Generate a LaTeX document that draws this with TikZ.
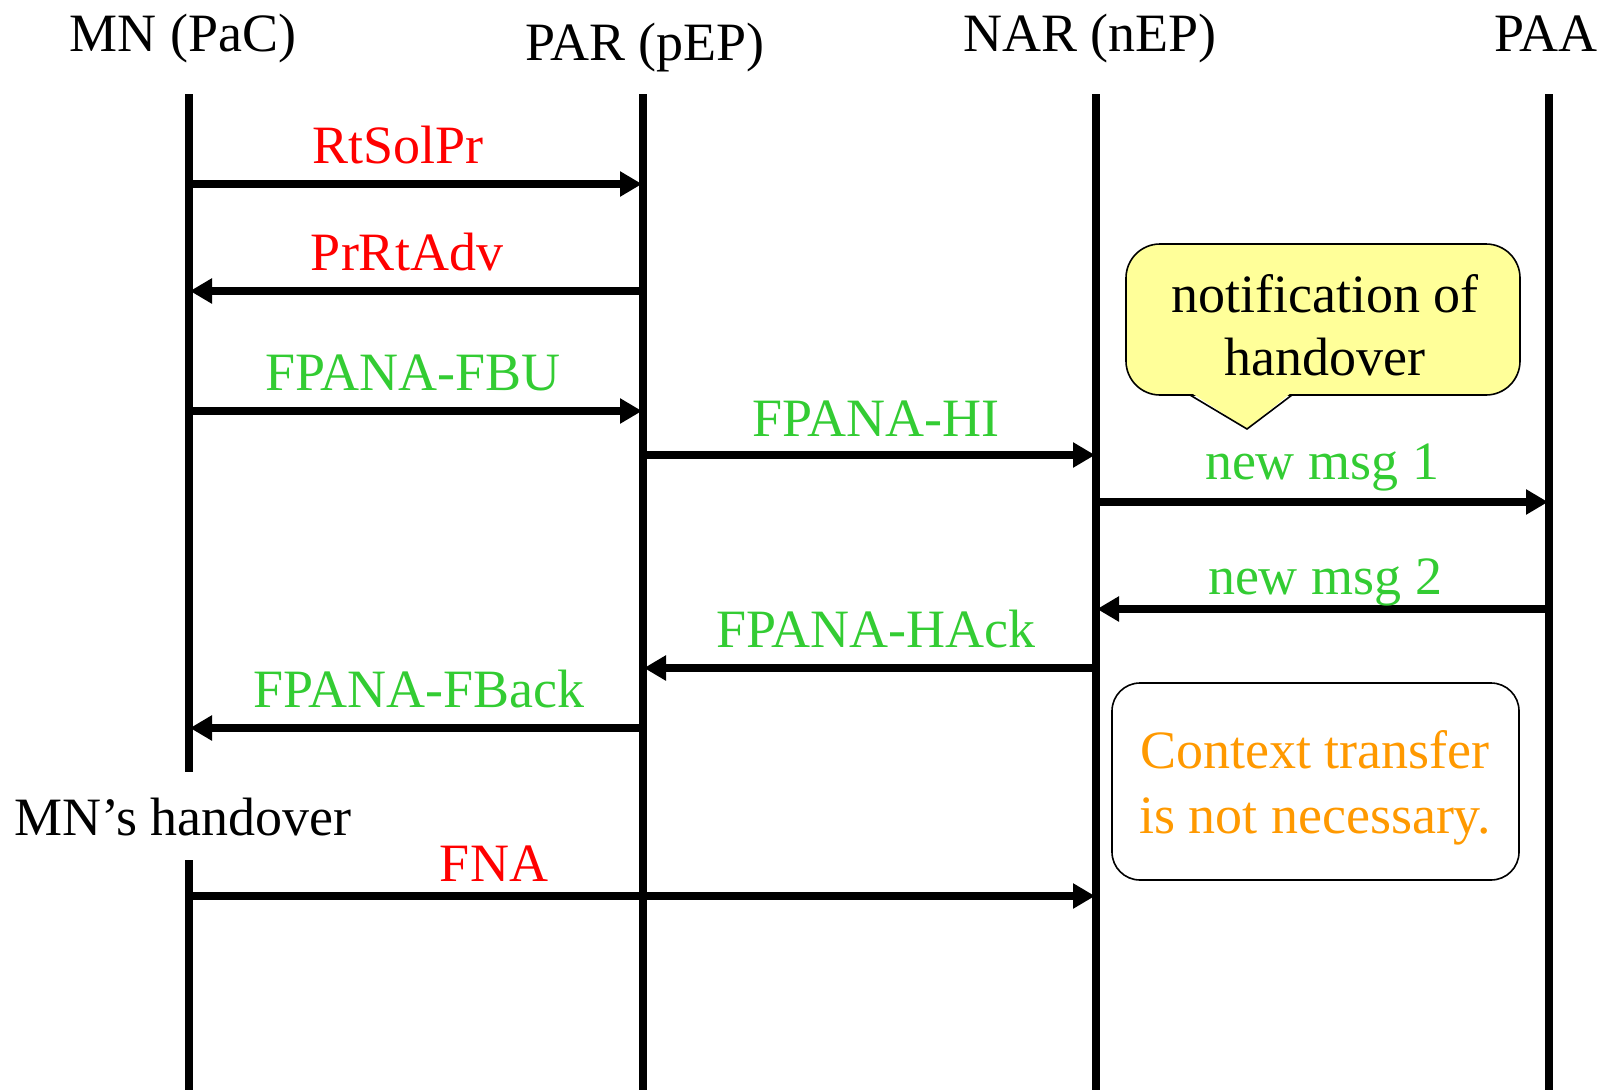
\documentclass[tikz,border=0pt]{standalone}
\usepackage{fontspec}
\setmainfont{Liberation Serif}
\usetikzlibrary{arrows.meta}
\definecolor{msgred}{RGB}{255,0,0}
\definecolor{msggreen}{RGB}{51,204,51}
\definecolor{ctxorange}{RGB}{255,153,0}
\definecolor{notefill}{RGB}{255,255,153}

\begin{document}
\begin{tikzpicture}[x=1pt,y=-1pt,
  lifeline/.style={line width=8pt},
  msg/.style={line width=7.5pt,-{Triangle[length=22pt,width=24pt]}},
  txt/.style={font=\fontsize{54}{60}\selectfont, anchor=base, inner sep=0pt},
  redlbl/.style={txt, text=msgred},
  greenlbl/.style={txt, text=msggreen},
  orangelbl/.style={txt, text=ctxorange}]

\useasboundingbox (0,0) rectangle (1610,1090);

% entity headers
\node[txt] (hmn)  at (183,51) {MN (PaC)};
\node[txt] (hpar) at (645,60) {PAR (pEP)};
\node[txt] (hnar) at (1090,51) {NAR (nEP)};
\node[txt] (hpaa) at (1546,51) {PAA};

% lifeline end points
\coordinate (mnTop)  at (189,94);
\coordinate (mnGapA) at (189,772);
\coordinate (mnGapB) at (189,860);
\coordinate (mnBot)  at (189,1090);
\coordinate (parTop) at (643,94);
\coordinate (parBot) at (643,1090);
\coordinate (narTop) at (1096,94);
\coordinate (narBot) at (1096,1090);
\coordinate (paaTop) at (1549,94);
\coordinate (paaBot) at (1549,1090);

\draw[lifeline] (mnTop) -- (mnGapA);
\draw[lifeline] (mnGapB) -- (mnBot);
\draw[lifeline] (parTop) -- (parBot);
\draw[lifeline] (narTop) -- (narBot);
\draw[lifeline] (paaTop) -- (paaBot);

\node[txt] (handover) at (183,835) {MN’s handover};

% message end points
\coordinate (m1a) at (189,184);  \coordinate (m1b) at (642,184);
\coordinate (m2a) at (643,291);  \coordinate (m2b) at (190,291);
\coordinate (m3a) at (189,411);  \coordinate (m3b) at (642,411);
\coordinate (m4a) at (643,455);  \coordinate (m4b) at (1095,455);
\coordinate (m5a) at (1096,502); \coordinate (m5b) at (1548,502);
\coordinate (m6a) at (1549,609); \coordinate (m6b) at (1097,609);
\coordinate (m7a) at (1096,668); \coordinate (m7b) at (644,668);
\coordinate (m8a) at (643,728);  \coordinate (m8b) at (190,728);
\coordinate (m9a) at (189,896);  \coordinate (m9b) at (1095,896);

% messages
\draw[msg] (m1a) -- (m1b);
\draw[msg] (m2a) -- (m2b);
\draw[msg] (m3a) -- (m3b);
\draw[msg] (m4a) -- (m4b);
\draw[msg] (m5a) -- (m5b);
\draw[msg] (m6a) -- (m6b);
\draw[msg] (m7a) -- (m7b);
\draw[msg] (m8a) -- (m8b);
\draw[msg] (m9a) -- (m9b);

% message labels
\node[redlbl]   (l1) at (398,163) {RtSolPr};
\node[redlbl]   (l2) at (407,270) {PrRtAdv};
\node[greenlbl] (l3) at (413,390) {FPANA-FBU};
\node[greenlbl] (l4) at (876,436) {FPANA-HI};
\node[greenlbl] (l5) at (1322,479) {new msg 1};
\node[greenlbl] (l6) at (1325,594) {new msg 2};
\node[greenlbl] (l7) at (876,647) {FPANA-HAck};
\node[greenlbl] (l8) at (419,707) {FPANA-FBack};
\node[redlbl]   (l9) at (494,881) {FNA};

% speech bubble
\draw[line width=1.6pt, fill=notefill, rounded corners=34pt]
  (1126,244) rectangle (1520,395);
\fill[notefill] (1190,392) -- (1247,429) -- (1292,392) -- cycle;
\draw[line width=1.6pt, line join=miter] (1190,395) -- (1247,429) -- (1292,395);
\node[txt] (note1) at (1325,312) {notification of};
\node[txt] (note2) at (1325,375) {handover};

% context transfer box
\draw[line width=1.6pt, rounded corners=28pt] (1112,683) rectangle (1519,880);
\node[orangelbl] (ctx1) at (1315,768) {Context transfer};
\node[orangelbl] (ctx2) at (1315,833) {is not necessary.};

\end{tikzpicture}
\end{document}
